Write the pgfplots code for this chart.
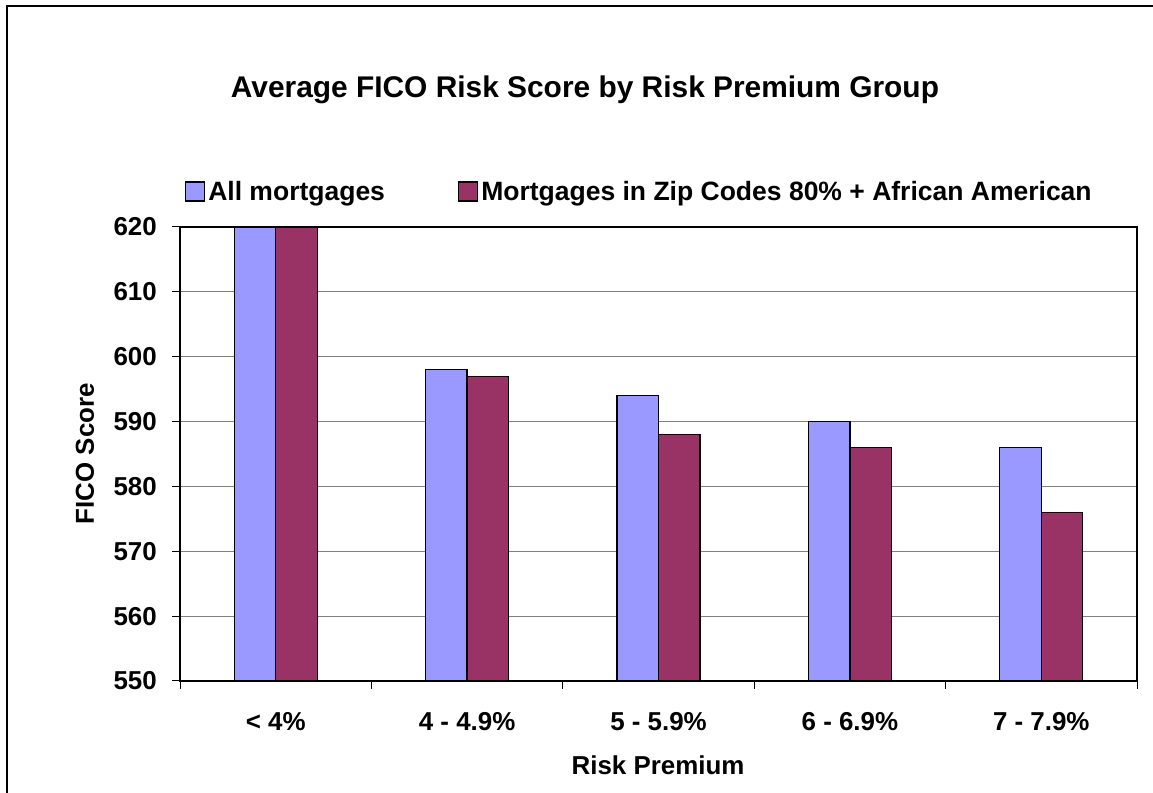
\documentclass[border=0pt]{standalone}
\usepackage{pgfplots}
\pgfplotsset{compat=1.18}
\usepackage{fontspec}
\setmainfont{Liberation Sans}
\definecolor{cblue}{HTML}{9999FF}
\definecolor{cred}{HTML}{993366}
\begin{document}
\begin{tikzpicture}[x=1bp,y=1bp]
\useasboundingbox (0,0) rectangle (1153,793);
\draw[line width=2.5bp] (7,-5) -- (7,787) -- (1160,787);
\node[font=\fontsize{30}{34}\selectfont\bfseries] at (585,703) {Average FICO Risk Score by Risk Premium Group};
\begin{axis}[at={(180bp,112bp)}, anchor=south west, scale only axis,
  width=957bp, height=454bp,
  ybar=0pt, bar width=41.5bp,
  xmin=-0.5, xmax=4.5, ymin=550, ymax=620,
  xtick={0,1,2,3,4},
  xticklabels={{< 4\%},{4 - 4.9\%},{5 - 5.9\%},{6 - 6.9\%},{7 - 7.9\%}},
  major x tick style={draw=none},
  minor xtick={-0.5,0.5,1.5,2.5,3.5,4.5},
  minor x tick style={black, line width=1bp},
  minor tick length=8bp,
  ytick={550,560,...,620},
  major tick length=8bp,
  tick align=outside,
  xtick pos=bottom, ytick pos=left,
  ytick style={black, line width=1bp},
  ymajorgrids, grid style={draw=gray, line width=1.2bp},
  axis line style={black, line width=1.3bp},
  tick label style={font=\fontsize{26}{30}\selectfont\bfseries},
  /pgf/number format/assume math mode=true,
  /pgf/number format/1000 sep={},
  xticklabel style={anchor=base, yshift=-42bp},
  yticklabel style={anchor=east, inner sep=0pt, xshift=-15bp},
  ylabel={FICO Score}, xlabel={Risk Premium},
  every axis y label/.style={at={(axis description cs:-0.0993,0.501)}, rotate=90, anchor=center, font=\fontsize{26}{30}\selectfont\bfseries},
  every axis x label/.style={at={(axis description cs:0.4995,-0.185)}, anchor=center, font=\fontsize{26}{30}\selectfont\bfseries},
  legend columns=2,
  legend style={at={(axis description cs:0.005,1.078)}, anchor=west, draw=none, fill=none,
    inner sep=0pt, font=\fontsize{26.6}{30}\selectfont\bfseries,
    nodes={inner sep=3bp},
    /tikz/every even column/.append style={column sep=70bp}},
  legend image code/.code={\draw[#1] (0bp,-9.5bp) rectangle (19bp,9.5bp);},
]
\addplot[fill=cblue, draw=black, line width=1.3bp] coordinates {(0,620) (1,598) (2,594) (3,590) (4,586)};
\addplot[fill=cred, draw=black, line width=1.3bp] coordinates {(0,620) (1,597) (2,588) (3,586) (4,576)};
\legend{All mortgages, Mortgages in Zip Codes 80\% + African American}
\end{axis}
\end{tikzpicture}
\end{document}
